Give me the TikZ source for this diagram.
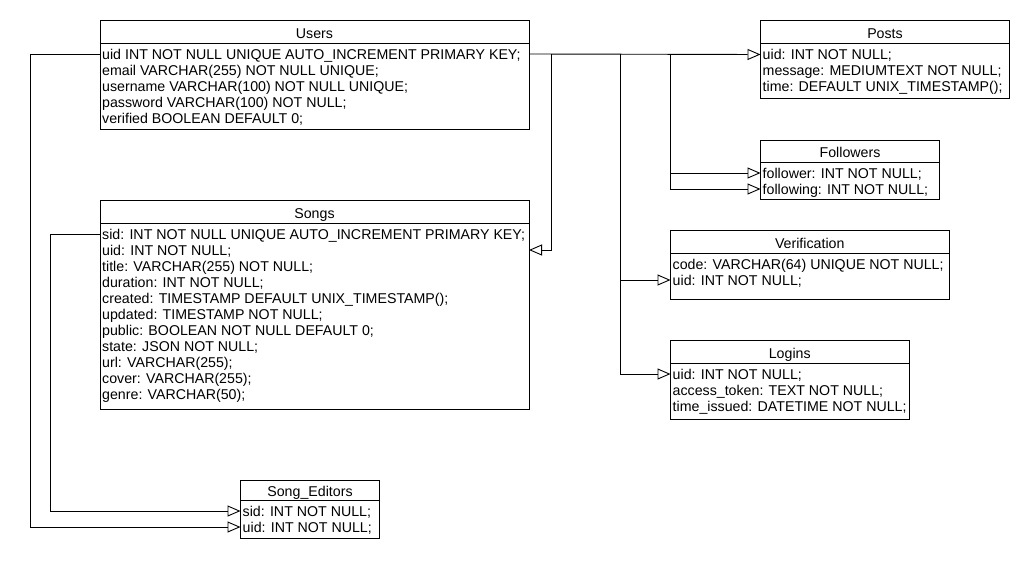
\documentclass[tikz,border=0pt]{standalone}
\usepackage{fontspec}
\setmainfont{Liberation Sans}
\usetikzlibrary{arrows.meta}

\tikzset{
  head/.style={draw, line width=0.9pt, anchor=north west, inner sep=0pt, outer sep=0pt, text height=13pt, text depth=0pt},
  body/.style={draw, line width=0.9pt, anchor=north west, inner sep=0pt, outer sep=0pt},
  row/.style={anchor=west, inner sep=0pt, text height=10pt, text depth=0pt},
  fk/.style={line width=0.9pt, -{Triangle[open, length=13pt, width=11pt]}},
}

\begin{document}
\begin{tikzpicture}[x=1pt, y=-1pt, font=\fontsize{14.2}{16}\selectfont]
\fill[white] (0,0) rectangle (1030,570);
\useasboundingbox (0,0) rectangle (1030,570);

% Users
\node[head, minimum width=429pt, minimum height=23pt] (users) at (100,20) {Users};
\node[body, minimum width=429pt, minimum height=86pt] (users-body) at (users.south west) {};
\foreach \t [count=\i] in {{uid INT NOT NULL UNIQUE AUTO\_INCREMENT PRIMARY KEY;},
  {email VARCHAR(255) NOT NULL UNIQUE;}, {username VARCHAR(100) NOT NULL UNIQUE;},
  {password VARCHAR(100) NOT NULL;}, {verified BOOLEAN DEFAULT 0;}}
  \node[row] (users-\i) at (102, 38+16*\i) {\t};

% Songs
\node[head, minimum width=429pt, minimum height=23pt] (songs) at (100,200) {Songs};
\node[body, minimum width=429pt, minimum height=186pt] (songs-body) at (songs.south west) {};
\foreach \t [count=\i] in {{sid: INT NOT NULL UNIQUE AUTO\_INCREMENT PRIMARY KEY;},
  {uid: INT NOT NULL;}, {title: VARCHAR(255) NOT NULL;}, {duration: INT NOT NULL;},
  {created: TIMESTAMP DEFAULT UNIX\_TIMESTAMP();}, {updated: TIMESTAMP NOT NULL;},
  {public: BOOLEAN NOT NULL DEFAULT 0;}, {state: JSON NOT NULL;}, {url: VARCHAR(255);},
  {cover: VARCHAR(255);}, {genre: VARCHAR(50);}}
  \node[row] (songs-\i) at (102, 218+16*\i) {\t};

% Posts
\node[head, minimum width=249pt, minimum height=23pt] (posts) at (760.5,20.5) {Posts};
\node[body, minimum width=249pt, minimum height=55pt] (posts-body) at (posts.south west) {};
\foreach \t [count=\i] in {{uid: INT NOT NULL;}, {message: MEDIUMTEXT NOT NULL;},
  {time: DEFAULT UNIX\_TIMESTAMP();}}
  \node[row] (posts-\i) at (762.5, 38.5+16*\i) {\t};

% Followers
\node[head, minimum width=179pt, minimum height=21.5pt] (followers) at (760.5,140.5) {Followers};
\node[body, minimum width=179pt, minimum height=37pt] (followers-body) at (followers.south west) {};
\foreach \t [count=\i] in {{follower: INT NOT NULL;}, {following: INT NOT NULL;}}
  \node[row] (followers-\i) at (762.5, 157+16*\i) {\t};

% Verification
\node[head, minimum width=278.5pt, minimum height=23pt] (verification) at (670.5,230) {Verification};
\node[body, minimum width=278.5pt, minimum height=46pt] (verification-body) at (verification.south west) {};
\foreach \t [count=\i] in {{code: VARCHAR(64) UNIQUE NOT NULL;}, {uid: INT NOT NULL;}}
  \node[row] (verification-\i) at (672.5, 248+16*\i) {\t};

% Logins
\node[head, minimum width=238.5pt, minimum height=22.5pt] (logins) at (670.5,340.5) {Logins};
\node[body, minimum width=238.5pt, minimum height=56pt] (logins-body) at (logins.south west) {};
\foreach \t [count=\i] in {{uid: INT NOT NULL;}, {access\_token: TEXT NOT NULL;},
  {time\_issued: DATETIME NOT NULL;}}
  \node[row] (logins-\i) at (672.5, 358+16*\i) {\t};

% Song_Editors
\node[head, minimum width=139pt, minimum height=19.5pt] (editors) at (240.5,480.5) {Song\_Editors};
\node[body, minimum width=139pt, minimum height=38.5pt] (editors-body) at (editors.south west) {};
\foreach \t [count=\i] in {{sid: INT NOT NULL;}, {uid: INT NOT NULL;}}
  \node[row] (editors-\i) at (242.5, 495+16*\i) {\t};

% bus lines
\coordinate (songs-link) at (551,0);
\coordinate (login-link) at (620.5,0);
\coordinate (follow-link) at (670.5,0);
\coordinate (outer-link) at (30.5,0);
\coordinate (inner-link) at (50,0);

% Users uid to the right
\draw[fk] (users-1.west -| users-body.east) -- (posts-1.west -| posts-body.west);
\draw[fk] (songs-link |- users-1.west) |- (songs-2.west -| songs-body.east);
\draw[fk] (login-link |- users-1.west) |- (logins-1.west -| logins-body.west);
\draw[fk] (login-link |- verification-2.west) -- (verification-2.west -| verification-body.west);
\draw[fk] (follow-link |- users-1.west) |- (followers-2.west -| followers-body.west);
\draw[fk] (follow-link |- followers-1.west) -- (followers-1.west -| followers-body.west);

% to Song_Editors
\draw[fk] (users-1.west -| users-body.west) -| (outer-link |- editors-2.west) -- (editors-2.west -| editors-body.west);
\draw[fk] (songs-1.west -| songs-body.west) -| (inner-link |- editors-1.west) -- (editors-1.west -| editors-body.west);
\end{tikzpicture}
\end{document}
